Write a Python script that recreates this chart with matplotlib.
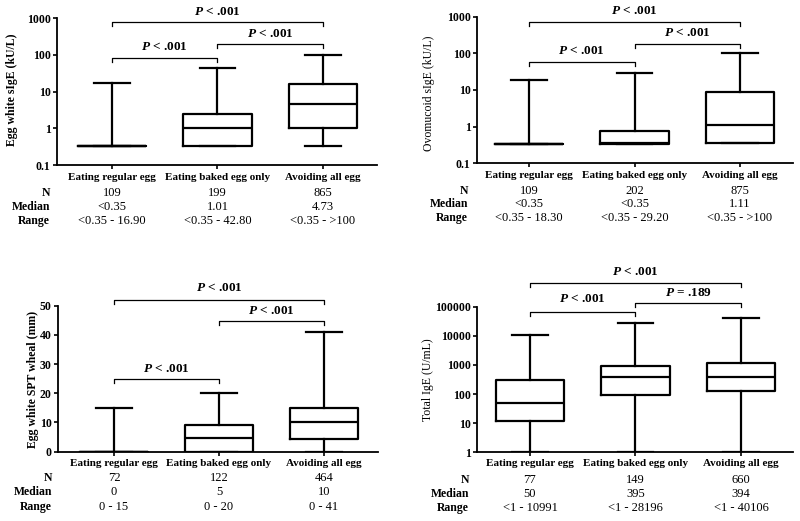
import matplotlib
matplotlib.use("Agg")
import matplotlib.pyplot as plt
from matplotlib.transforms import blended_transform_factory

plt.rcParams['font.family'] = ['Liberation Serif', 'DejaVu Serif']
plt.rcParams['mathtext.fontset'] = 'custom'
plt.rcParams['mathtext.bfit'] = 'Liberation Serif:italic:bold'
plt.rcParams['mathtext.it'] = 'Liberation Serif:italic:bold'

groups = ['Eating regular egg', 'Eating baked egg only', 'Avoiding all egg']
row_names = ['N', 'Median', 'Range']

# box stats per panel: (whislo, q1, med, q3, whishi)
egg_sige = [(0.33, 0.33, 0.33, 0.33, 16.9), (0.33, 0.34, 1.01, 2.5, 42.8), (0.33, 1.05, 4.73, 16.1, 100)]
ovo_sige = [(0.33, 0.33, 0.33, 0.33, 18.3), (0.33, 0.33, 0.35, 0.76, 29.2), (0.35, 0.35, 1.11, 8.6, 100)]
spt_wheal = [(0, 0, 0, 0, 15), (0, 0, 4.6, 9, 20), (0, 4.2, 10, 15, 41)]
total_ige = [(1, 11.9, 50, 302, 10991), (1, 93, 395, 925, 28196), (1, 131, 394, 1200, 40106)]

egg_n = ['109', '199', '865']
egg_med = ['<0.35', '1.01', '4.73']
egg_rng = ['<0.35 - 16.90', '<0.35 - 42.80', '<0.35 - >100']
ovo_n = ['109', '202', '875']
ovo_med = ['<0.35', '<0.35', '1.11']
ovo_rng = ['<0.35 - 18.30', '<0.35 - 29.20', '<0.35 - >100']
spt_n = ['72', '122', '464']
spt_med = ['0', '5', '10']
spt_rng = ['0 - 15', '0 - 20', '0 - 41']
ige_n = ['77', '149', '660']
ige_med = ['50', '395', '394']
ige_rng = ['<1 - 10991', '<1 - 28196', '<1 - 40106']

egg_p = [(0, 2, '< .001'), (0, 1, '< .001'), (1, 2, '< .001')]
ovo_p = [(0, 2, '< .001'), (0, 1, '< .001'), (1, 2, '< .001')]
spt_p = [(0, 2, '< .001'), (1, 2, '< .001'), (0, 1, '< .001')]
ige_p = [(0, 2, '< .001'), (0, 1, '< .001'), (1, 2, '= .189')]

W, H = 800, 521
fig = plt.figure(figsize=(8, 5.21), dpi=100)


def fy(px):
    return 1 - px / H


panels = [
    dict(stats=egg_sige, rows=[egg_n, egg_med, egg_rng], p=egg_p, log=True,
         ylim=(0.1, 1000), yticks=[0.1, 1, 10, 100, 1000],
         ylabels=['0.1', '1', '10', '100', '1000'],
         ylabel='Egg white sIgE (kU/L)', ybold=True, lab_x=12, lab_y=90,
         box=(57, 377, 18.3, 165), xlim=(-0.521, 2.512),
         brk=[(22, 12), (58, 47), (44, 34)], rowy=[177, 193, 207, 221], rowx=50),
    dict(stats=ovo_sige, rows=[ovo_n, ovo_med, ovo_rng], p=ovo_p, log=True,
         ylim=(0.1, 1000), yticks=[0.1, 1, 10, 100, 1000],
         ylabels=['0.1', '1', '10', '100', '1000'],
         ylabel='Ovomucoid sIgE (kU/L)', ybold=False, lab_x=429, lab_y=93,
         box=(477, 793, 16.7, 163.3), xlim=(-0.493, 2.502),
         brk=[(22, 11), (62, 51), (44, 33)], rowy=[175, 191, 204, 218], rowx=468),
    dict(stats=spt_wheal, rows=[spt_n, spt_med, spt_rng], p=spt_p, log=False,
         ylim=(0, 50), yticks=[0, 10, 20, 30, 40, 50],
         ylabels=['0', '10', '20', '30', '40', '50'],
         ylabel='Egg white SPT wheal (mm)', ybold=True, lab_x=33, lab_y=379,
         box=(58, 377.7, 305.7, 451.7), xlim=(-0.533, 2.511),
         brk=[(300, 288), (321, 311), (379, 369)], rowy=[463, 478, 492, 507], rowx=52),
    dict(stats=total_ige, rows=[ige_n, ige_med, ige_rng], p=ige_p, log=True,
         ylim=(1, 100000), yticks=[1, 10, 100, 1000, 10000, 100000],
         ylabels=['1', '10', '100', '1000', '10000', '100000'],
         ylabel='Total IgE (U/mL)', ybold=False, lab_x=428, lab_y=380,
         box=(477, 793, 306.7, 452.3), xlim=(-0.502, 2.493),
         brk=[(283, 272), (312, 299), (303, 293)], rowy=[464, 480, 494, 508], rowx=469),
]

for pn in panels:
    l, r, t, b = pn['box']
    ax = fig.add_axes([l / W, 1 - b / H, (r - l) / W, (b - t) / H])
    bxp_stats = []
    for s in pn['stats']:
        bxp_stats.append(dict(whislo=s[0], q1=s[1], med=s[2], q3=s[3], whishi=s[4], fliers=[]))
    lp = dict(color='black', linewidth=1.6)
    ax.bxp(bxp_stats, positions=[0, 1, 2], widths=0.65, capwidths=0.34,
           showfliers=False, boxprops=lp, whiskerprops=lp, capprops=lp,
           medianprops=lp, manage_ticks=False)
    if pn['log']:
        ax.set_yscale('log')
    ax.set_ylim(*pn['ylim'])
    ax.set_xlim(*pn['xlim'])
    ax.set_yticks(pn['yticks'])
    ax.set_yticklabels(pn['ylabels'], fontweight='bold', fontsize=8.5)
    ax.minorticks_off()
    ax.set_xticks([0, 1, 2])
    ax.set_xticklabels([])
    ax.tick_params(axis='both', length=3, width=1.2, direction='out', pad=1.5)
    for side in ['top', 'right']:
        ax.spines[side].set_visible(False)
    for side in ['left', 'bottom']:
        ax.spines[side].set_linewidth(1.3)

    fig.text(pn['lab_x'] / W, fy(pn['lab_y']), pn['ylabel'], rotation=90,
             ha='center', va='center', fontsize=8.5,
             fontweight='bold' if pn['ybold'] else 'normal')

    tr = blended_transform_factory(ax.transData, fig.transFigure)
    # brackets
    for (i, j, txt), (yb, yt) in zip(pn['p'], pn['brk']):
        ax.plot([i, i, j, j], [fy(yb + 3.5), fy(yb), fy(yb), fy(yb + 3.5)],
                color='black', linewidth=0.9, transform=tr, clip_on=False)
        ax.text((i + j) / 2, fy(yt), r'$\mathit{P}$ ' + txt, transform=tr,
                ha='center', va='center', fontsize=9.5, fontweight='bold')

    # category labels and table
    ry = pn['rowy']
    for k, g in enumerate(groups):
        ax.text(k, fy(ry[0]), g, transform=tr, ha='center', va='center',
                fontsize=8, fontweight='bold')
        for m in range(3):
            ax.text(k, fy(ry[m + 1]), pn['rows'][m][k], transform=tr,
                    ha='center', va='center', fontsize=9)
    for m, name in enumerate(row_names):
        fig.text(pn['rowx'] / W, fy(ry[m + 1]), name, ha='right', va='center',
                 fontsize=8.5, fontweight='bold')

fig.savefig('out.png', dpi=100)
